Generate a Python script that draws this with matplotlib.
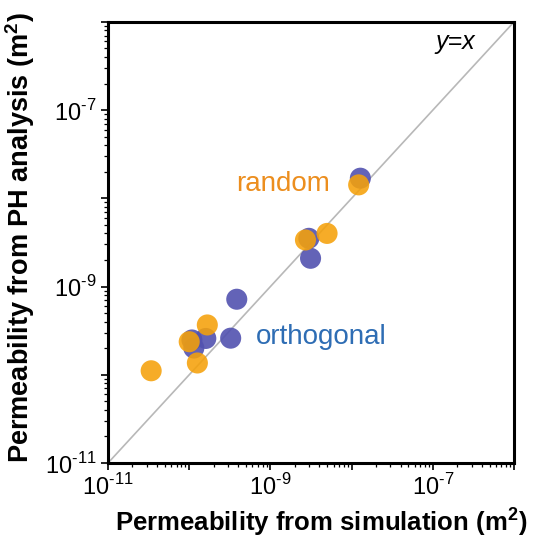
import numpy as np
import matplotlib.pyplot as plt
from matplotlib.ticker import LogLocator, FixedLocator, NullFormatter

plt.rcParams['font.family'] = ['Liberation Sans', 'DejaVu Sans']
plt.rcParams['mathtext.fontset'] = 'custom'
plt.rcParams['mathtext.rm'] = 'Liberation Sans'
plt.rcParams['mathtext.bf'] = 'Liberation Sans:bold'

# permeability values (m^2)
ortho_sim = [3.85e-10, 3.24e-10, 1.08e-10, 1.6e-10, 1.14e-10, 2.97e-9, 3.12e-9, 1.28e-8]
ortho_ph = [7.18e-10, 2.6e-10, 2.48e-10, 2.58e-10, 2.01e-10, 3.52e-9, 2.09e-9, 1.69e-8]

rand_sim = [3.4e-11, 1.26e-10, 1.0e-10, 1.67e-10, 2.7e-9, 4.98e-9, 1.22e-8]
rand_ph = [1.11e-10, 1.36e-10, 2.37e-10, 3.67e-10, 3.37e-9, 4.0e-9, 1.42e-8]

lims = [1e-11, 1e-6]
tick_labels = {1e-11: r'10$^{\text{-11}}$', 1e-9: r'10$^{\text{-9}}$',
               1e-7: r'10$^{\text{-7}}$'}

fig = plt.figure(figsize=(5.4, 5.46), dpi=100)
ax = fig.add_axes([0.2, 0.152, 0.752, 0.808])

ax.plot(lims, lims, color='#b8b8b8', lw=1.2, zorder=1)
ax.scatter(ortho_sim, ortho_ph, s=230, color='#5252b0', alpha=0.9, edgecolors='none', zorder=2)
ax.scatter(rand_sim, rand_ph, s=230, color='#f5a10a', alpha=0.88, edgecolors='none', zorder=3)

ax.set_xscale('log')
ax.set_yscale('log')
ax.set_xlim(lims)
ax.set_ylim(lims)

majors = [10.0 ** e for e in range(-11, -5)]
for axis in (ax.xaxis, ax.yaxis):
    axis.set_major_locator(FixedLocator(majors))
    axis.set_minor_locator(LogLocator(base=10, subs=np.arange(2, 10), numticks=20))
    axis.set_minor_formatter(NullFormatter())
ax.set_xticklabels([tick_labels.get(m, '') for m in majors])
ax.set_yticklabels([tick_labels.get(m, '') for m in majors])

ax.tick_params(which='major', direction='out', length=5, width=1.2, labelsize=17, pad=3)
ax.tick_params(which='minor', direction='out', length=3, width=0.9)
for sp in ax.spines.values():
    sp.set_linewidth(2.2)

ax.set_xlabel(r'Permeability from simulation (m$^{\mathbf{2}}$)', fontsize=18.5, fontweight='bold')
ax.set_ylabel(r'Permeability from PH analysis (m$^{\mathbf{2}}$)', fontsize=19.5, fontweight='bold')
ax.xaxis.set_label_coords(0.525, -0.095)
ax.yaxis.set_label_coords(-0.176, 0.512)

ax.text(0.855, 0.955, 'y=x', transform=ax.transAxes, fontsize=18, style='italic', ha='center', va='center')
ax.text(0.431, 0.633, 'random', transform=ax.transAxes, fontsize=20, color='#ec8e1e', ha='center', va='center')
ax.text(0.525, 0.286, 'orthogonal', transform=ax.transAxes, fontsize=20, color='#2e6db4', ha='center', va='center')

fig.savefig('out.png', dpi=100)
